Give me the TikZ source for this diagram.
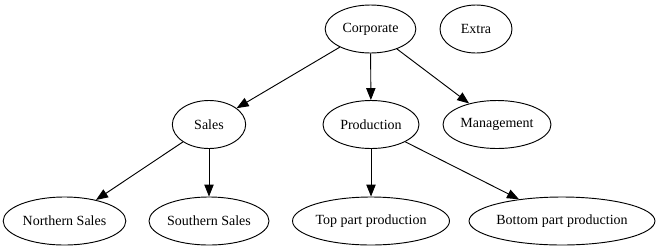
\documentclass[tikz,border=0pt]{standalone}
\usepackage{fontspec}
\newfontfamily\nodefont{Liberation Serif}
\usepackage{tikz}
\usetikzlibrary{arrows.meta, shapes.geometric}

\begin{document}
\begin{tikzpicture}[
    x=0.75pt, y=-0.75pt,
    oval/.style={ellipse, draw, line width=0.7pt, inner sep=0pt, minimum height=36pt,
                 font=\nodefont\fontsize{10.5}{12}\selectfont},
    arrow/.style={-{Triangle[length=9pt, width=7pt]}, line width=0.7pt}
]
\useasboundingbox (0,0) rectangle (656,251);

% Top rank
\node[oval, minimum width=68pt] (corp) at (370.5, 29) {Corporate};
\node[oval, minimum width=54pt] (extra) at (476, 29) {Extra};

% Middle rank
\node[oval, minimum width=55pt] (sales) at (209, 124.5) {Sales};
\node[oval, minimum width=72pt] (prod) at (371, 124.5) {Production};
\node[oval, minimum width=81pt] (mgmt) at (497, 124.5) {Management};

% Bottom rank
\node[oval, minimum width=92pt] (north) at (64.5, 221) {Northern Sales};
\node[oval, minimum width=90pt] (south) at (209, 221) {Southern Sales};
\node[oval, minimum width=116pt] (top) at (371, 221) {Top part production};
\node[oval, minimum width=136pt] (bottom) at (562, 221) {Bottom part production};

% Arrows
\draw[arrow] (corp) -- (sales);
\draw[arrow] (corp) -- (prod);
\draw[arrow] (corp) -- (mgmt);
\draw[arrow] (sales) -- (north);
\draw[arrow] (sales) -- (south);
\draw[arrow] (prod) -- (top);
\draw[arrow] (prod) -- (bottom);

\end{tikzpicture}
\end{document}
